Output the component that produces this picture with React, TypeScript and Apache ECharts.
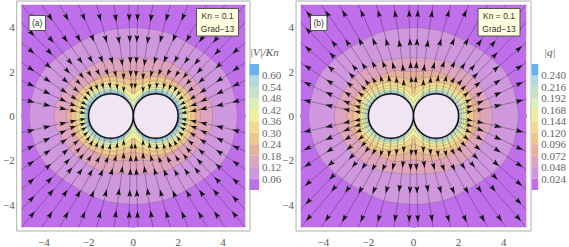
import React, { useEffect, useRef } from "react";
import * as echarts from "echarts";

const plotSquare = [[-5, -5], [5, -5], [5, 5], [-5, 5]];
const circles = [[-1, 0, 1], [1, 0, 1]];
const majorTicks = [-4, -2, 0, 2, 4];
const minorTicks = [-5, -4.5, -3.5, -3, -2.5, -1.5, -1, -0.5, 0.5, 1, 1.5, 2.5, 3, 3.5, 4.5, 5];

const bandColors = ["#BF6FE9", "#CF97DE", "#DFA4BD", "#E7B09C", "#EFC48F", "#F3DA90", "#F2EE9F", "#DDEFB2", "#C6E3C8", "#B0D9E0", "#68B3EE"];
const levelsA = [0.06, 0.12, 0.18, 0.24, 0.30, 0.36, 0.42, 0.48, 0.54, 0.60];
const levelsB = [0.024, 0.048, 0.072, 0.096, 0.120, 0.144, 0.168, 0.192, 0.216, 0.240];

// First-quadrant contour points, mirrored below
const contoursA = [
  [[4.65, 0], [4.42, 1.27], [3.98, 2.09], [2.95, 2.98], [1.47, 3.76], [0, 3.97]],
  [[3.54, 0], [3.47, 0.53], [3, 1.27], [2.5, 1.87], [1.47, 2.46], [0, 2.62]],
  [[3, 0], [2.95, 0.3], [2.5, 0.98], [1.77, 1.64], [0.9, 2.0], [0, 1.97]],
  [[2.76, 0], [2.6, 0.8], [2.2, 1.3], [1.6, 1.65], [1, 1.78], [0.4, 1.7], [0, 1.62]],
  [[2.57, 0], [2.45, 0.7], [2.1, 1.15], [1.55, 1.47], [1, 1.58], [0.4, 1.47], [0, 1.3]],
  [[2.42, 0], [2.32, 0.65], [2, 1.05], [1.5, 1.33], [1, 1.42], [0.45, 1.3], [0, 1.02]],
  [[2.3, 0], [2.2, 0.6], [1.9, 0.98], [1.45, 1.22], [1, 1.3], [0.5, 1.18], [0.12, 0.8], [0, 0.7]],
  [[2.2, 0], [2.12, 0.5], [1.8, 0.92], [1.4, 1.13], [1, 1.2], [0.55, 1.1], [0.2, 0.75], [0, 0.45]],
  [[2.13, 0], [2.05, 0.48], [1.75, 0.85], [1.35, 1.07], [1, 1.13], [0.55, 1.03], [0.2, 0.7], [0, 0.3]],
  [[2.06, 0], [2, 0.42], [1.7, 0.78], [1.3, 1.02], [1, 1.06], [0.55, 0.97], [0.2, 0.65], [0, 0.2]],
];
const contoursB = [
  [[4.65, 0], [4.42, 1.27], [3.98, 2.09], [2.95, 2.98], [1.47, 3.76], [0, 3.97]],
  [[3.5, 0], [3.43, 0.53], [3, 1.27], [2.5, 1.87], [1.47, 2.46], [0, 2.62]],
  [[2.95, 0], [2.88, 0.4], [2.5, 1.05], [1.77, 1.68], [0.9, 2.03], [0, 1.98]],
  [[2.68, 0], [2.55, 0.8], [2.2, 1.28], [1.6, 1.64], [1, 1.78], [0.4, 1.7], [0, 1.62]],
  [[2.48, 0], [2.38, 0.68], [2.05, 1.1], [1.55, 1.42], [1, 1.53], [0.4, 1.42], [0, 1.25]],
  [[2.34, 0], [2.25, 0.6], [1.95, 1], [1.5, 1.26], [1, 1.36], [0.45, 1.25], [0.08, 0.92], [0, 0.88]],
  [[2.24, 0], [2.16, 0.55], [1.85, 0.95], [1.42, 1.18], [1, 1.26], [0.5, 1.14], [0.15, 0.8], [0, 0.6]],
  [[2.15, 0], [2.08, 0.5], [1.78, 0.88], [1.38, 1.1], [1, 1.16], [0.55, 1.06], [0.2, 0.72], [0, 0.4]],
  [[2.07, 0], [2, 0.42], [1.7, 0.8], [1.32, 1.03], [1, 1.09], [0.55, 0.98], [0.2, 0.66], [0, 0.25]],
  [[2.02, 0], [1.96, 0.38], [1.66, 0.76], [1.28, 0.99], [1, 1.04], [0.55, 0.93], [0.2, 0.62], [0, 0.15]],
];

// First-quadrant streamlines, each as three points: outer, middle, inner
const streamsQ1 = [
  [[0.2, 5], [0.12, 1.9], [0.05, 1.0]],
  [[0.87, 5], [0.44, 1.94], [0.43, 0.82]],
  [[1.65, 5], [0.77, 1.79], [0.69, 0.95]],
  [[2.45, 5], [1.1, 1.79], [1, 1]],
  [[3.3, 5], [1.45, 1.75], [1.28, 0.96]],
  [[4.1, 5], [1.75, 1.6], [1.47, 0.88]],
  [[5, 5], [2.0, 1.45], [1.64, 0.77]],
  [[5, 4.2], [2.2, 1.25], [1.74, 0.67]],
  [[5, 3.3], [2.35, 1.0], [1.84, 0.54]],
  [[5, 2.4], [2.55, 0.75], [1.91, 0.41]],
  [[5, 1.6], [2.7, 0.5], [1.97, 0.26]],
  [[5, 0.75], [2.8, 0.25], [1.995, 0.1]],
];
const arrowStopsA = [0.14, 0.38, 0.62, 0.77, 0.91];
const arrowSizesA = [1, 1, 0.95, 0.85, 0.75];
const arrowStopsB = [0.1, 0.42, 0.68, 0.84];
const arrowSizesB = [1, 1, 0.95, 0.85];

const mirrorContour = (q: number[][]) => [
  ...q,
  ...q.slice(0, -1).reverse().map(([x, y]) => [-x, y]),
  ...q.slice(1).map(([x, y]) => [-x, -y]),
  ...q.slice(1, -1).reverse().map(([x, y]) => [x, -y]),
];
const signs = [[1, 1], [-1, 1], [-1, -1], [1, -1]];
const streams = signs.flatMap(([sx, sy]) =>
  streamsQ1.map((line) => line.map(([x, y]) => [x * sx, y * sy]))
);

const GREY = "#b0b0b0";
const SERIF = "'Liberation Serif', serif";

function plotAxes(gridIndex: number) {
  const mk = (dim: "x" | "y", position: string, values: number[], len: number, labels: boolean) => ({
    type: "value",
    gridIndex,
    min: dim === "x" ? -5.21 : -5.17,
    max: dim === "x" ? 5.21 : 5.17,
    position,
    splitLine: { show: false },
    axisLine: { show: false },
    axisTick: { show: true, inside: true, length: len, customValues: values, lineStyle: { color: GREY, width: 1 } },
    axisLabel: labels
      ? {
          show: true,
          customValues: majorTicks,
          margin: dim === "x" ? 5 : 2,
          color: "#555",
          fontFamily: SERIF,
          fontSize: 11,
          formatter: (v: number) => (v < 0 ? "\u2212" + Math.abs(v) : String(v)),
        }
      : { show: false },
  });
  return {
    x: [mk("x", "bottom", majorTicks, 4, true), mk("x", "bottom", minorTicks, 2, false), mk("x", "top", majorTicks, 4, false), mk("x", "top", minorTicks, 2, false)],
    y: [mk("y", "left", majorTicks, 4, true), mk("y", "left", minorTicks, 2, false), mk("y", "right", majorTicks, 4, false), mk("y", "right", minorTicks, 2, false)],
  };
}

function plotSeries(axisIndex: number, contours: number[][][], stops: number[], sizes: number[], outward: boolean) {
  const axes = { xAxisIndex: axisIndex, yAxisIndex: axisIndex, coordinateSystem: "cartesian2d", clip: false, silent: true };
  const rings = [plotSquare, ...contours.map(mirrorContour)];
  return [
    {
      type: "custom",
      ...axes,
      z: 2,
      data: rings.map((_, i) => [0, 0, i]),
      renderItem: (p: any, api: any) => {
        const i = p.dataIndex;
        return {
          type: "polygon",
          shape: { points: rings[i].map((c) => api.coord(c)), smooth: i === 0 ? 0 : 0.25 },
          style: { fill: bandColors[i], stroke: i === 0 ? "none" : "rgba(90,80,90,0.32)", lineWidth: 0.7 },
        };
      },
    },
    {
      type: "custom",
      ...axes,
      z: 3,
      data: streams.map((_, i) => [0, 0, i]),
      renderItem: (p: any, api: any) => {
        const pts: number[][] = streams[p.dataIndex].map((c) => api.coord(c));
        const seg1 = Math.hypot(pts[1][0] - pts[0][0], pts[1][1] - pts[0][1]);
        const seg2 = Math.hypot(pts[2][0] - pts[1][0], pts[2][1] - pts[1][1]);
        const total = seg1 + seg2;
        const s = outward ? -1 : 1;
        const heads = stops.map((t, k) => {
          const along = t * total;
          const first = along <= seg1;
          const A = first ? pts[0] : pts[1];
          const B = first ? pts[1] : pts[2];
          const f = first ? along / seg1 : (along - seg1) / seg2;
          const P = [A[0] + (B[0] - A[0]) * f, A[1] + (B[1] - A[1]) * f];
          const len = first ? seg1 : seg2;
          const ux = ((B[0] - A[0]) / len) * s;
          const uy = ((B[1] - A[1]) / len) * s;
          const nx = -uy;
          const ny = ux;
          const m = sizes[k];
          return {
            type: "polygon",
            shape: {
              points: [
                [P[0] + ux * 4 * m, P[1] + uy * 4 * m],
                [P[0] - ux * 3.5 * m + nx * 2.4 * m, P[1] - uy * 3.5 * m + ny * 2.4 * m],
                [P[0] - ux * 2.2 * m, P[1] - uy * 2.2 * m],
                [P[0] - ux * 3.5 * m - nx * 2.4 * m, P[1] - uy * 3.5 * m - ny * 2.4 * m],
              ],
            },
            style: { fill: "#111" },
          };
        });
        return {
          type: "group",
          children: [
            { type: "polyline", shape: { points: pts, smooth: 0.3 }, style: { fill: "none", stroke: "rgba(40,30,50,0.6)", lineWidth: 0.6 } },
            ...heads,
          ],
        };
      },
    },
    {
      type: "custom",
      ...axes,
      z: 4,
      data: circles,
      renderItem: (p: any, api: any) => {
        const [x, y, r] = circles[p.dataIndex];
        const C = api.coord([x, y]);
        const S = api.size([r, r]);
        return {
          type: "ellipse",
          shape: { cx: C[0], cy: C[1], rx: S[0], ry: S[1] },
          style: { fill: "#F0E5F3", stroke: "#111", lineWidth: 1.5 },
        };
      },
    },
  ];
}

function barSeries(axisIndex: number, levels: number[], top: number) {
  const edges = [0, ...levels, top];
  return {
    type: "custom",
    xAxisIndex: axisIndex,
    yAxisIndex: axisIndex,
    coordinateSystem: "cartesian2d",
    silent: true,
    data: bandColors.map((_, i) => [0, edges[i], i]),
    renderItem: (p: any, api: any) => {
      const i = p.dataIndex;
      const lo = api.coord([0, edges[i]]);
      const hi = api.coord([1, edges[i + 1]]);
      return {
        type: "rect",
        shape: { x: lo[0], y: hi[1], width: hi[0] - lo[0], height: lo[1] - hi[1] },
        style: { fill: bandColors[i] },
      };
    },
  };
}

function barAxes(gridIndex: number, levels: number[], top: number, digits: number) {
  return {
    x: { type: "value", gridIndex, min: 0, max: 1, show: false },
    y: {
      type: "value",
      gridIndex,
      min: 0,
      max: top,
      position: "right",
      splitLine: { show: false },
      axisLine: { show: false },
      axisTick: { show: false },
      axisLabel: {
        show: true,
        customValues: levels,
        margin: 3,
        color: "#666",
        fontFamily: SERIF,
        fontSize: 11,
        formatter: (v: number) => v.toFixed(digits),
      },
    },
  };
}

const noteBox = (x: number, y: number, w: number, h: number, fill: string, stroke: string) => ({
  type: "rect",
  z: 100,
  shape: { x, y, width: w, height: h },
  style: { fill, stroke, lineWidth: 1 },
});
const noteText = (x: number, y: number, text: string) => ({
  type: "text",
  z: 101,
  x,
  y,
  style: { text, fontFamily: "'Liberation Sans', sans-serif", fontSize: 8.5, fill: "#333", textAlign: "center", textVerticalAlign: "middle" },
});
const titleStyle = { fontFamily: SERIF, fontStyle: "italic", fontWeight: "normal", fontSize: 11, color: "#555" };

export default function App() {
  const ref = useRef<HTMLDivElement>(null);
  useEffect(() => {
    const chart = echarts.init(ref.current!, undefined, { renderer: "svg" });
    const a = plotAxes(0);
    const b = plotAxes(1);
    const barA = barAxes(2, levelsA, 0.66, 2);
    const barB = barAxes(3, levelsB, 0.264, 3);
    chart.setOption({
      animation: false,
      title: [
        { text: "|V|/Kn", left: 245, top: 41, textStyle: titleStyle },
        { text: "|q|", left: 539, top: 41, textStyle: titleStyle },
      ],
      grid: [
        { left: 14.5, top: 1, width: 235.5, height: 232.5, show: true, borderColor: GREY, borderWidth: 1, backgroundColor: "#fff" },
        { left: 296, top: 1, width: 235, height: 232.5, show: true, borderColor: GREY, borderWidth: 1, backgroundColor: "#fff" },
        { left: 249.5, top: 64, width: 9.5, height: 126 },
        { left: 531.7, top: 64, width: 8.5, height: 126 },
      ],
      xAxis: [...a.x, ...b.x, barA.x, barB.x],
      yAxis: [...a.y, ...b.y, barA.y, barB.y],
      series: [
        ...plotSeries(0, contoursA, arrowStopsA, arrowSizesA, false),
        ...plotSeries(4, contoursB, arrowStopsB, arrowSizesB, true),
        barSeries(8, levelsA, 0.66),
        barSeries(9, levelsB, 0.264),
      ],
      graphic: [
        noteBox(29, 15.5, 16.5, 15, "#fff", "#555"),
        noteText(37.2, 23, "(a)"),
        noteBox(196.5, 8.5, 42, 27.5, "#FFFFDF", "#555"),
        noteText(217.5, 16, "Kn = 0.1"),
        noteText(217.5, 29, "Grad\u221213"),
        noteBox(310.5, 15.5, 16.5, 15, "#fff", "#555"),
        noteText(318.7, 23, "(b)"),
        noteBox(478, 8.5, 42, 27.5, "#FFFFDF", "#555"),
        noteText(499, 16, "Kn = 0.1"),
        noteText(499, 29, "Grad\u221213"),
      ],
    });
    return () => chart.dispose();
  }, []);
  return <div ref={ref} style={{ position: "absolute", left: 0, top: 0, width: 569, height: 247 }} />;
}
